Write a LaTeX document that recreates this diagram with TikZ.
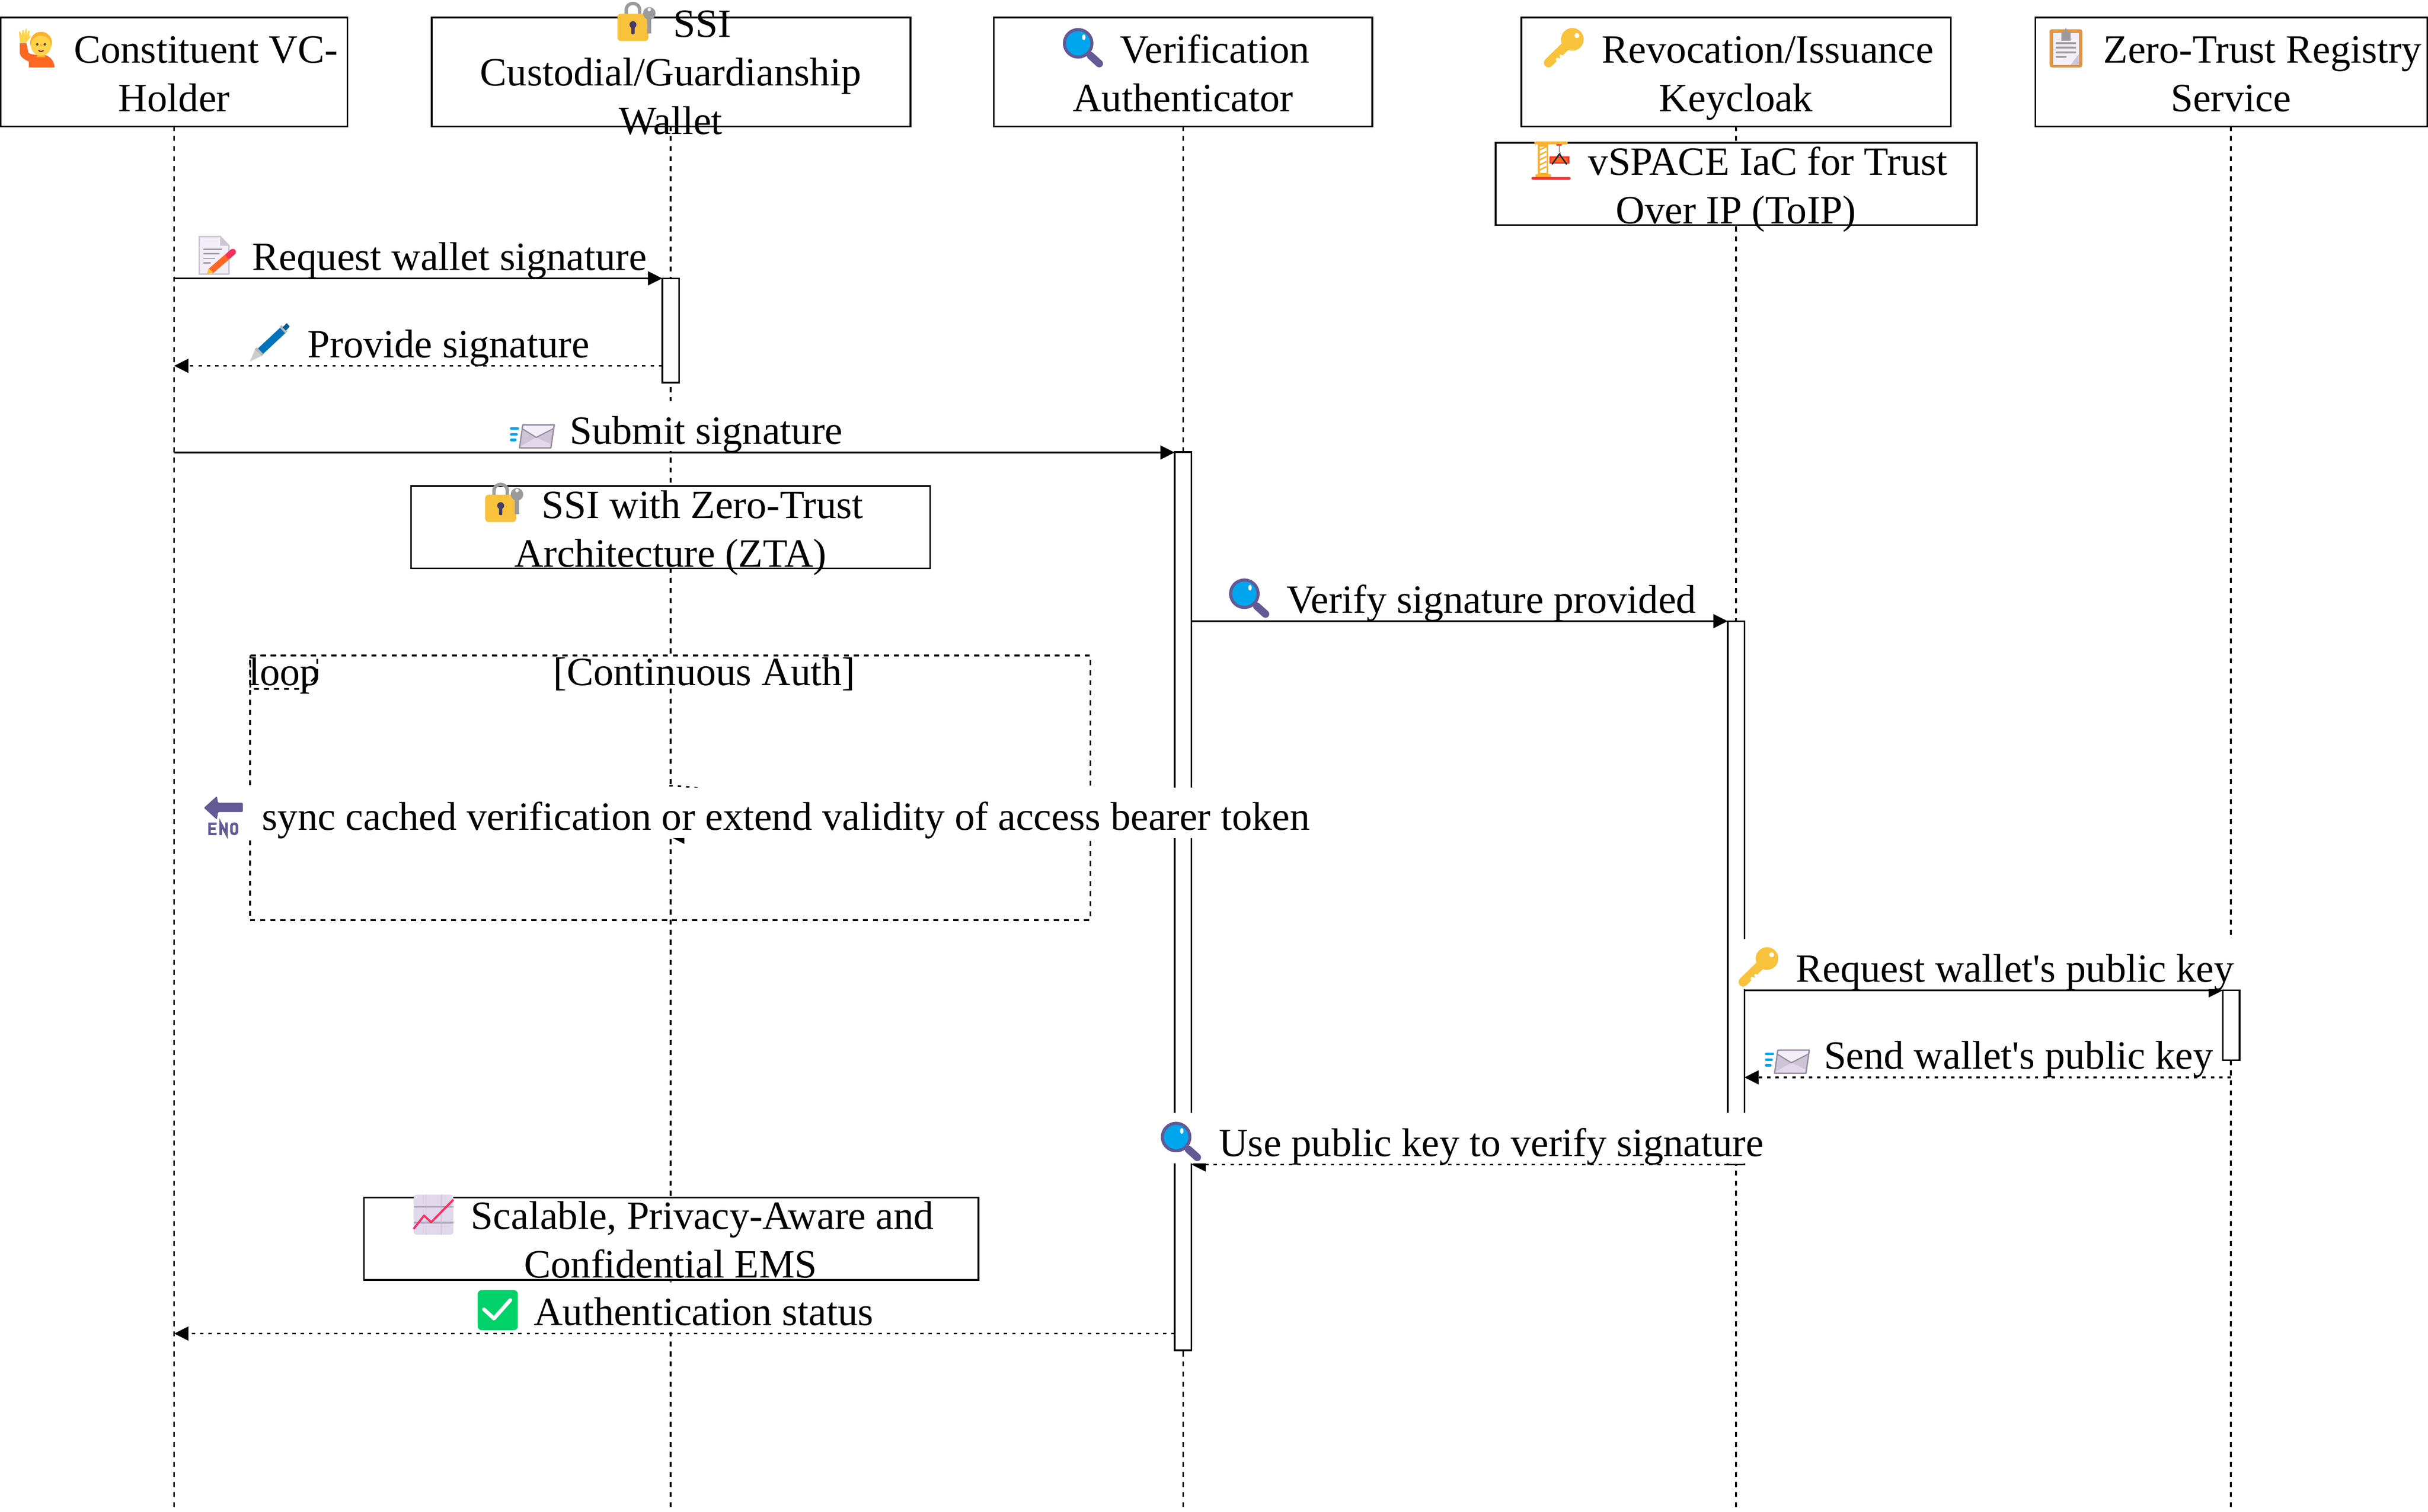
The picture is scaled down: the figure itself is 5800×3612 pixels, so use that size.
\documentclass[tikz,border=0pt]{standalone}
\usepackage{fontspec}
\setmainfont{Liberation Serif}
\usetikzlibrary{arrows.meta}
\definecolor{cBlue}{HTML}{00A6ED}
\definecolor{cPurple}{HTML}{635994}
\definecolor{cGold}{HTML}{F9C23C}
\definecolor{cAmber}{HTML}{FFB02E}
\definecolor{cRed}{HTML}{F8312F}
\definecolor{cOrange}{HTML}{FF6723}
\definecolor{cLilac}{HTML}{E1D8EC}
\definecolor{cLilacB}{HTML}{CDC4D6}
\definecolor{cPaper}{HTML}{F3EEF8}
\definecolor{cGrey}{HTML}{9B9B9B}
\definecolor{cEdge}{HTML}{998EA4}
\definecolor{cKeyhole}{HTML}{433B6B}
\definecolor{cBoard}{HTML}{E19747}
\definecolor{cPink}{HTML}{F92F60}
\definecolor{cGreen}{HTML}{00D26A}
\definecolor{cPen}{HTML}{0074BA}
\definecolor{cFace}{HTML}{FFD34A}
\newcommand{\msglabel}[6]{\fill[white] (#2,#5-123) rectangle (#4,#5-3);
  \node[msgtext,anchor=base west] (#1) at (#3,#5-20) {#6};}
\tikzset{
  rowfont/.style={font=\fontsize{9.58}{11.6}\selectfont,inner sep=0pt},
  lbl/.style={rowfont,align=center,anchor=base},
  msgtext/.style={rowfont},
  framebox/.style={draw=black,fill=white,line width=0.4pt,inner sep=0pt,outer sep=0pt,minimum height=26pt},
  notebox/.style={framebox,minimum height=19.7pt},
  actbar/.style={draw=black,fill=white,line width=0.4pt,inner sep=0pt,outer sep=0pt,minimum width=4pt},
  lifeline/.style={draw=black,line width=0.4pt,dash pattern=on 1.2pt off 1.2pt},
  loopline/.style={draw=black,line width=0.4pt,dash pattern=on 1.2pt off 1.2pt},
  msgsolid/.style={draw=black,line width=0.4pt,-{Triangle[length=3.4pt,width=3.3pt]}},
  msgdash/.style={draw=black,line width=0.4pt,dash pattern=on 0.8pt off 1.2pt,-{Triangle[length=3.4pt,width=3.3pt]}},
  pics/person/.style={code={
    \fill[cOrange] (2,34) -- (18,34) -- (23,57) .. controls (30,62) and (40,62) .. (65,63) .. controls (78,68) and (85,80) .. (85,92) -- (24,92) -- (24,78) .. controls (10,72) and (2,65) .. (2,55) -- cycle;
    \fill[cFace] (3,33) -- (0,8) -- (3,6) -- (6,15) -- (9,3) -- (12,3) -- (13,15) -- (16,0) -- (19,0) -- (19,15) -- (23,4) -- (26,5) -- (24,20) -- (28,16) -- (28,19) -- (18,33) -- cycle;
    \fill[cAmber] (43,54) rectangle (63,68);
    \fill[cAmber] (53,33) ellipse [x radius=26,y radius=26];
    \fill[cFace] (53,40) ellipse [x radius=24,y radius=24];
    \fill[black!70] (44,37) circle [radius=3] (62,37) circle [radius=3];
    \fill[cAmber] (53,39) circle [radius=3];
    \draw[purple!70!black,line width=0.25pt] (47,51) .. controls (50,55) and (56,55) .. (59,51);
  }},
  pics/padlock/.style={code={
    \draw[cGrey,line width=0.8pt] (22,30) -- (22,19) .. controls (22,-2) and (54,-2) .. (54,19) -- (54,30);
    \fill[cGold,rounded corners=0.8pt] (1,28) rectangle (75,93);
    \fill[cGrey] (77,27) circle [radius=15];
    \fill[cGrey] (72,30) rectangle (82,75);
    \fill[white] (77,18) circle [radius=4];
    \fill[cKeyhole] (38,54) circle [radius=8.3];
    \fill[cKeyhole,rounded corners=0.3pt] (34,54) rectangle (42,77);
  }},
  pics/lens/.style={code={
    \draw[cPurple,line width=1.8pt,line cap=round] (66,66) -- (87,85);
    \fill[cPurple] (36.5,36.5) circle [radius=36.5];
    \fill[cBlue] (36.5,36.5) circle [radius=29];
    \fill[white] (50,22) ellipse [x radius=4,y radius=7];
  }},
  pics/goldkey/.style={code={
    \draw[cGold,line width=2.2pt,line cap=round] (55,40) -- (11,83);
    \fill[cGold] (68,27) circle [radius=27];
    \fill[white] (79,18) circle [radius=6];
    \fill[white] (33,75) circle [radius=4.5] (41,67) circle [radius=3.5];
  }},
  pics/clipboard/.style={code={
    \fill[cBoard,rounded corners=0.5pt] (0,3) rectangle (78,94);
    \fill[cPaper] (8,12) rectangle (70,88);
    \fill[cLilacB] (50,88) -- (70,88) -- (70,62) -- cycle;
    \fill[cGrey] (28,8) rectangle (50,30);
    \fill[cGrey] (39,0) -- (44,8) -- (34,8) -- cycle;
    \draw[cGrey,line width=0.5pt,line cap=round] (17,36) -- (61,36) (17,47) -- (61,47) (17,58) -- (61,58) (17,69) -- (38,69);
  }},
  pics/crane/.style={code={
    \fill[cAmber] (16,7) rectangle (40,79);
    \fill[white] (20,12) rectangle (36,75);
    \draw[cAmber,line width=0.35pt] (20,20) -- (36,12) (20,32) -- (36,24) (20,44) -- (36,36) (20,56) -- (36,48) (20,68) -- (36,60);
    \fill[cAmber,rounded corners=0.3pt] (7,0) rectangle (87,7);
    \fill[cAmber,rounded corners=0.2pt] (10,78) rectangle (47,86);
    \fill[cRed,rounded corners=0.3pt] (0,85) rectangle (94,91);
    \fill[cRed] (60,7) rectangle (73,10);
    \draw[cGrey,line width=0.25pt] (67,10) -- (67,24) .. controls (72,28) and (70,34) .. (63,32);
    \fill[cRed] (44,36) rectangle (91,53);
    \fill[cOrange] (47,39) rectangle (87,50);
    \draw[black!85,line width=0.35pt,line cap=round] (50,54) -- (67,30) -- (84,54);
  }},
  pics/memo/.style={code={
    \fill[cPaper,draw=cLilacB,line width=0.35pt,line join=round] (2,2) -- (52,2) -- (73,24) -- (73,92) -- (2,92) -- cycle;
    \fill[cLilacB] (52,2) -- (73,24) -- (52,24) -- cycle;
    \draw[cGrey,line width=0.3pt] (12,33) -- (56,33) (12,43) -- (50,43) (12,54) -- (40,54) (12,65) -- (30,65);
    \draw[cOrange,line width=1.5pt] (29,85) -- (73,47);
    \fill[cGold] (20,92) -- (24,78) -- (36,88) -- cycle;
    \draw[cPink,line width=1.5pt,line cap=round] (73,47) -- (82,39);
  }},
  pics/pen/.style={code={
    \draw[cPen,line width=1.8pt] (20,72) -- (82,14);
    \draw[cGrey!70,line width=0.7pt] (30,77) -- (14,60);
    \draw[cGrey!70,line width=0.7pt] (87,22) -- (73,7);
    \fill[cGrey!50] (0,92) -- (12,63) -- (28,78) -- cycle;
    \fill[cPen!80!black] (78,10) -- (88,0) -- (95,8) -- (86,18) -- cycle;
  }},
  pics/mail/.style={code={
    \draw[cBlue,line width=0.6pt,line cap=round] (3,10) -- (19,10) (3,24) -- (16,24) (3,37) -- (13,37);
    \filldraw[fill=cLilac,draw=cEdge,line width=0.3pt,line join=round] (31,1) -- (106,1) -- (98,56) -- (23,56) -- cycle;
    \fill[cLilacB] (29,10) -- (63,31) -- (104,10) -- (100,48) -- (63,31) -- (25,52) -- cycle;
    \filldraw[fill=cPaper,draw=cEdge,line width=0.3pt,line join=round] (31,1) -- (106,1) -- (104,10) -- (63,31) -- (29,10) -- cycle;
    \draw[cEdge,line width=0.3pt,line join=round] (31,1) -- (106,1) -- (98,56) -- (23,56) -- cycle;
  }},
  pics/endarrow/.style={code={
    \fill[cPurple,rounded corners=0.2pt] (1,30) -- (32,2) -- (35,18) -- (94,18) -- (94,40) -- (35,40) -- (32,58) -- cycle;
    \draw[cPurple,line width=0.6pt] (31,68) -- (15,68) -- (15,92) -- (31,92) (15,80) -- (29,80);
    \draw[cPurple,line width=0.6pt] (41,95) -- (41,67) -- (55,93) -- (55,65);
    \draw[cPurple,line width=0.6pt,rounded corners=0.5pt] (67,68) -- (80,68) -- (80,92) -- (67,92) -- cycle;
  }},
  pics/chart/.style={code={
    \fill[cLilac,rounded corners=0.8pt] (0,0) rectangle (95,96);
    \draw[cEdge!80,line width=0.4pt] (0,29) -- (95,29) (0,67) -- (95,67);
    \draw[cEdge!60,line width=0.2pt] (30,0) -- (30,96) (66,0) -- (66,96);
    \draw[cPink,line width=0.5pt,line join=round] (0,82) -- (25,50) -- (42,66) -- (95,12);
  }},
  pics/tick/.style={code={
    \fill[cGreen,rounded corners=1pt] (0,0) rectangle (96,96);
    \draw[white,line width=0.9pt,line join=round,line cap=round] (15,46) -- (39,68) -- (78,24);
  }},
}
\begin{document}
\begin{tikzpicture}[x=0.1pt,y=-0.1pt]
\useasboundingbox (0,0) rectangle (5800,3612);
% lifeline ends and message ends
\coordinate (endA) at (416,3612);
\coordinate (endB) at (1602,3612);
\coordinate (endC) at (2826,3612);
\coordinate (endD) at (4147,3612);
\coordinate (endE) at (5329,3612);
\coordinate (topA) at (416,301);
\coordinate (topB) at (1602,301);
\coordinate (topC) at (2826,301);
\coordinate (topD) at (4147,301);
\coordinate (topE) at (5329,301);
\draw[lifeline] (topA) -- (endA);
\draw[lifeline] (topB) -- (endB);
\draw[lifeline] (topC) -- (endC);
\draw[lifeline] (topD) -- (endD);
\draw[lifeline] (topE) -- (endE);
% participants
\node[framebox,minimum width=82.8pt] (boxA) at (416,172) {};
\node[framebox,minimum width=114.4pt] (boxB) at (1603,172) {};
\node[framebox,minimum width=90.4pt] (boxC) at (2826,172) {};
\node[framebox,minimum width=102.6pt] (boxD) at (4147,172) {};
\node[framebox,minimum width=93.6pt] (boxE) at (5330,172) {};
\node[lbl] (txtA) at (416,266) {\hspace*{15.2pt}Constituent VC-\\Holder};
\node[lbl] (txtB) at (1602,321) {\hspace*{15.2pt}SSI\\Custodial/Guardianship\\Wallet};
\node[lbl] (txtC) at (2826,266) {\hspace*{15.2pt}Verification\\Authenticator};
\node[lbl] (txtD) at (4147,266) {\hspace*{15.2pt}Revocation/Issuance\\Keycloak};
\node[lbl] (txtE) at (5329,266) {\hspace*{15.2pt}Zero-Trust Registry\\Service};
% notes
\node[notebox,minimum width=115pt] (noteD) at (4147.5,439.5) {};
\node[lbl] (noteDt) at (4147,534) {\hspace*{15.2pt}vSPACE IaC for Trust\\Over IP (ToIP)};
\node[notebox,minimum width=124pt] (noteB) at (1602,1259.5) {};
\node[lbl] (noteBt) at (1602,1354) {\hspace*{15.2pt}SSI with Zero-Trust\\Architecture (ZTA)};
\node[notebox,minimum width=146.8pt] (noteEms) at (1603.5,2959.5) {};
\node[lbl] (noteEmst) at (1602,3053) {\hspace*{15.2pt}Scalable, Privacy-Aware and\\Confidential EMS};
% activations
\node[actbar,minimum height=24.9pt] (barB) at (1602,789.5) {};
\node[actbar,minimum height=214.6pt] (barC) at (2826,2153) {};
\node[actbar,minimum height=129.8pt] (barD) at (4147,2133) {};
\node[actbar,minimum height=16.7pt] (barE) at (5330,2449.5) {};
% loop frame
\fill[white] (1322,1566) rectangle (2034,1645);
\node[loopline,fill=none,inner sep=0pt,outer sep=0pt,minimum width=200.7pt,minimum height=63.2pt] (loopFrame) at (1601,1882) {};
\draw[loopline] (598,1566) -- (758,1566) -- (758,1614) -- (724,1646) -- (598,1646) -- cycle;
\node[msgtext,anchor=base west] (loopTag) at (592,1637) {loop};
\node[msgtext,anchor=base west] (loopCond) at (1320,1637) {[Continuous Auth]};
% messages
\coordinate (m1a) at (416,665);
\draw[msgsolid] (m1a) -- (barB.north west);
\coordinate (m2a) at (1582,874);
\coordinate (m2b) at (416,874);
\draw[msgdash] (m2a) -- (m2b);
\coordinate (m3a) at (416,1081);
\draw[msgsolid] (m3a) -- (barC.west |- m3a);
\coordinate (m4a) at (2846,1484);
\draw[msgsolid] (m4a) -- (barD.north west);
\coordinate (m5a) at (1599,1877);
\coordinate (m5b) at (1601,1999);
\draw[msgdash] (m5a) .. controls (1850,1887) and (1860,2001) .. (m5b);
\coordinate (m6a) at (4167,2366);
\draw[msgsolid] (m6a) -- (barE.north west);
\coordinate (m7a) at (5329,2574);
\coordinate (m7b) at (4167,2574);
\draw[msgdash] (m7a) -- (m7b);
\coordinate (m8a) at (4167,2782);
\coordinate (m8b) at (2846,2782);
\draw[msgdash] (m8a) -- (m8b);
\coordinate (m9a) at (2806,3186);
\coordinate (m9b) at (416,3186);
\draw[msgdash] (m9a) -- (m9b);
% message labels
\msglabel{msgA}{474}{601}{1546}{665}{Request wallet signature}
\msglabel{msgB}{597}{733}{1408}{874}{Provide signature}
\msglabel{msgC}{1218}{1359}{2016}{1081}{Submit signature}
\msglabel{msgD}{2936}{3071}{4050}{1484}{Verify signature provided}
\fill[white] (486,1882) rectangle (3135,2002);
\node[msgtext,anchor=base west] (msgE) at (624,1983) {sync cached verification or extend validity of access bearer token};
\msglabel{msgF}{4151}{4288}{5345}{2366}{Request wallet\textquotesingle s public key}
\msglabel{msgG}{4216}{4355}{5296}{2574}{Send wallet\textquotesingle s public key}
\msglabel{msgH}{2773}{2910}{4215}{2782}{Use public key to verify signature}
\msglabel{msgI}{1141}{1273}{2086}{3186}{Authentication status}
% icons
\pic at (45,69) {person};
\pic at (1474,5) {padlock};
\pic at (2539,67) {lens};
\pic at (3688,67) {goldkey};
\pic at (4896,67) {clipboard};
\pic at (3658,338) {crane};
\pic at (474,563) {memo};
\pic at (597,772) {pen};
\pic at (1218,1014) {mail};
\pic at (1158,1154) {padlock};
\pic at (2936,1382) {lens};
\pic at (486,1900) {endarrow};
\pic at (4153,2263) {goldkey};
\pic at (4216,2508) {mail};
\pic at (2773,2680) {lens};
\pic at (988,2854) {chart};
\pic at (1141,3082) {tick};
\end{tikzpicture}
\end{document}
